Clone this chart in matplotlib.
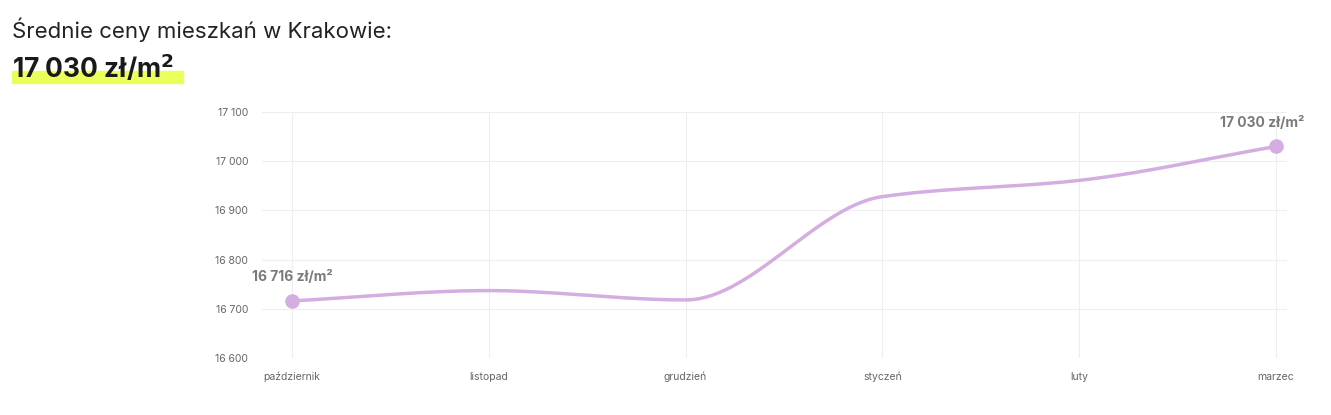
import matplotlib
matplotlib.use("Agg")
import matplotlib.pyplot as plt
import numpy as np
from matplotlib.patches import Rectangle

months = ["październik", "listopad", "grudzień", "styczeń", "luty", "marzec"]
prices = [16716, 16737, 16718, 16928, 16961, 17030]
yticks = [16600, 16700, 16800, 16900, 17000, 17100]

plt.rcParams['font.family'] = ['Inter', 'DejaVu Sans']
fig = plt.figure(figsize=(13.31, 4.15), dpi=100)
ax = fig.add_axes([262/1331, 57/415, 1025/1331, 246/415])

# monotone cubic (Fritsch-Carlson) for smooth drawing
x = np.arange(len(prices), dtype=float)
y = np.array(prices, dtype=float)
d = np.diff(y)
m = np.zeros_like(y)
m[0], m[-1] = d[0], d[-1]
for i in range(1, len(y) - 1):
    m[i] = 0 if d[i-1] * d[i] <= 0 else 2 / (1/d[i-1] + 1/d[i])
xs, ys = [], []
for i in range(len(y) - 1):
    t = np.linspace(0, 1, 60)
    h00 = 2*t**3 - 3*t**2 + 1; h10 = t**3 - 2*t**2 + t
    h01 = -2*t**3 + 3*t**2; h11 = t**3 - t**2
    xs.extend(x[i] + t); ys.extend(h00*y[i] + h10*m[i] + h01*y[i+1] + h11*m[i+1])

col = "#d4aee0"
ax.plot(xs, ys, color=col, lw=2.5, solid_capstyle='round')
ax.scatter([x[0], x[-1]], [y[0], y[-1]], s=90, color=col, zorder=3)
ax.annotate(f"{prices[0]:,} zł/m²".replace(",", " "), (x[0], y[0]), xytext=(0, 14),
            textcoords="offset points", ha="center", fontsize=10, fontweight="bold", color="#7a7a7a")
ax.annotate(f"{prices[-1]:,} zł/m²".replace(",", " "), (x[-1], y[-1]), xytext=(-10, 14),
            textcoords="offset points", ha="center", fontsize=10, fontweight="bold", color="#7a7a7a")

ax.set_xlim(-0.152, 5.056)
ax.set_ylim(16600, 17100)
ax.set_xticks(x)
ax.set_xticklabels(months)
ax.set_yticks(yticks)
ax.set_yticklabels([f"{v:,}".replace(",", " ") for v in yticks])
ax.tick_params(length=0, labelsize=7.5, colors="#666666", pad=10)
ax.grid(True, color="#eeeeee", lw=0.8)
for s in ax.spines.values():
    s.set_visible(False)

fig.patches.append(Rectangle((12/1331, (415-83)/415), 171/1331, 12/415,
                             transform=fig.transFigure, color="#eaff5a", zorder=0))
fig.text(12/1331, 1 - 30/415, "Średnie ceny mieszkań w Krakowie:", fontsize=16,
         va="center", color="#222222")
fig.text(12/1331, 1 - 68/415, "17 030 zł/m$^\\mathbf{2}$", fontsize=19, fontweight="bold",
         va="center", color="#1a1a1a", zorder=2)

fig.savefig("out.png", dpi=100)
